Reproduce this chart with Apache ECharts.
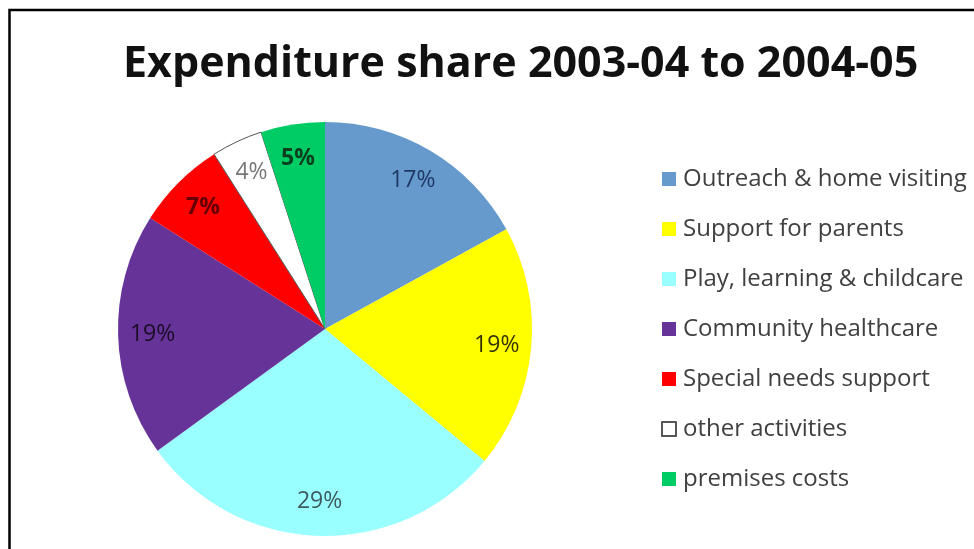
<!DOCTYPE html>
<html>
<head>
<meta charset="utf-8">
<script src="https://cdn.jsdelivr.net/npm/echarts@6/dist/echarts.min.js"></script>
<style>
  html, body { margin: 0; padding: 0; background: #fff; }
  #main { width: 974px; height: 549px; }
</style>
</head>
<body>
<div id="main"></div>
<script>
// categories and shares (%)
var categories = ['Outreach & home visiting', 'Support for parents', 'Play, learning & childcare',
                  'Community healthcare', 'Special needs support', 'other activities', 'premises costs'];
var shares = [17, 19, 29, 19, 7, 4, 5];
var sliceColors = ['#6699cc', '#ffff00', '#99ffff', '#663399', '#ff0000', '#ffffff', '#00cc66'];
var labelColors = ['#1f3864', '#333300', '#3d5a5e', '#1a0d26', '#660000', '#777777', '#0a4020'];

var chart = echarts.init(document.getElementById('main'));

var pieData = categories.map(function (name, i) {
  var item = { name: name, value: shares[i], itemStyle: { color: sliceColors[i] } };
  if (sliceColors[i] === '#ffffff') {
    item.itemStyle.borderColor = '#555';
    item.itemStyle.borderWidth = 1;
  }
  return item;
});

// transparent ring used only to place the percentage labels further out
var labelData = categories.map(function (name, i) {
  return {
    name: name, value: shares[i],
    label: { color: labelColors[i], fontWeight: (i === 6 || i === 4) ? 'bold' : 'normal' }
  };
});

var option = {
  animation: false,
  backgroundColor: '#fff',
  title: {
    text: 'Expenditure share 2003-04 to 2004-05',
    left: 118, top: 38,
    textStyle: { fontFamily: 'Open Sans', fontSize: 43, fontWeight: 'bold', color: '#111' }
  },
  legend: {
    orient: 'vertical',
    left: 661, top: 167, padding: 0,
    itemWidth: 14, itemHeight: 14, itemGap: 26,
    icon: 'rect',
    data: categories,
    textStyle: { fontFamily: 'Open Sans', fontSize: 24, color: '#404040', padding: [0, 0, 0, 2] }
  },
  graphic: [{
    type: 'rect', silent: true,
    shape: { x: 9.5, y: 10, width: 1000, height: 600 },
    style: { fill: 'none', stroke: '#000', lineWidth: 2.5 }
  }],
  series: [{
    type: 'pie',
    center: [325, 329], radius: 207,
    startAngle: 90, clockwise: true,
    label: { show: false }, labelLine: { show: false },
    emphasis: { disabled: true },
    data: pieData
  }, {
    type: 'pie',
    center: [325, 329], radius: [132, 207],
    startAngle: 90, clockwise: true, silent: true,
    legendHoverLink: false,
    itemStyle: { color: 'rgba(0,0,0,0)' },
    label: { show: true, position: 'inside', formatter: '{c}%', fontFamily: 'Open Sans', fontSize: 23 },
    labelLine: { show: false },
    emphasis: { disabled: true },
    data: labelData
  }]
};

chart.setOption(option);
</script>
</body>
</html>
